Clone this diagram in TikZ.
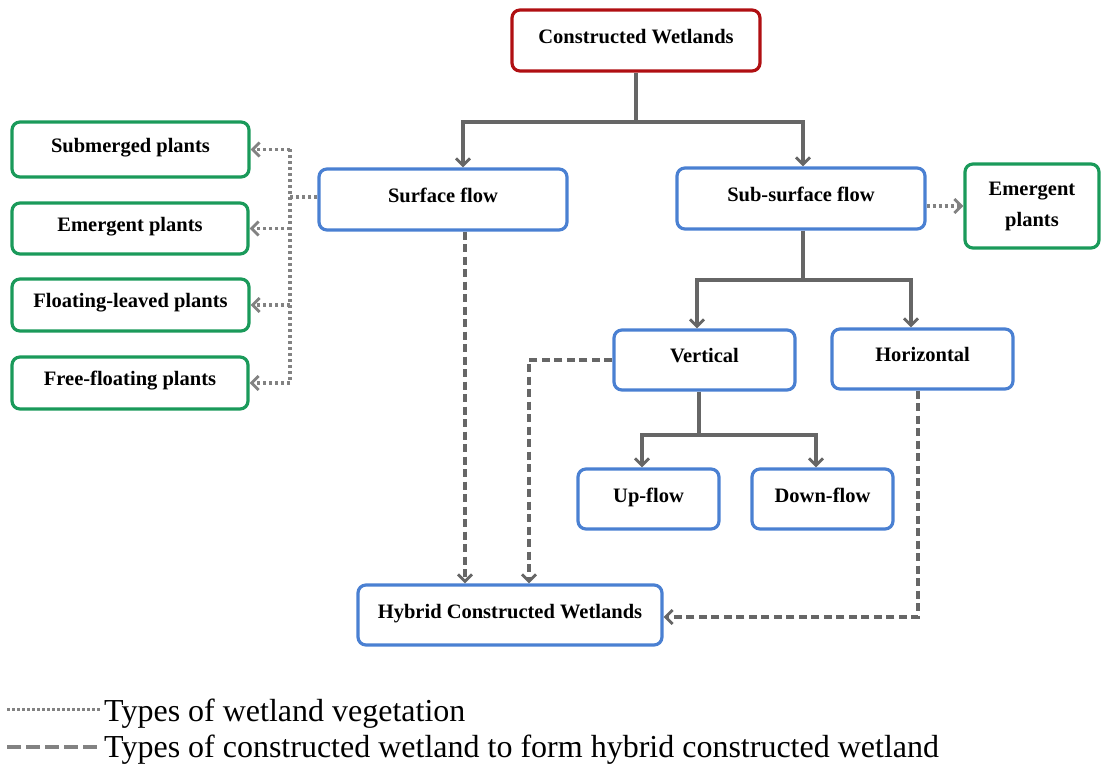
\documentclass[tikz,border=0pt]{standalone}
\usepackage{fontspec}
\setmainfont{Liberation Serif}
\usetikzlibrary{arrows.meta}
\definecolor{cwred}{HTML}{B00F12}
\definecolor{cwblue}{HTML}{4A80D2}
\definecolor{cwgreen}{HTML}{1A9A5A}
\definecolor{cwgray}{HTML}{666666}
\definecolor{cwdot}{HTML}{828282}
\begin{document}
\begin{tikzpicture}[x=1pt,y=-1pt,
  box/.style={draw, line width=3.2pt, rounded corners=8pt, fill=white, inner sep=0pt,
    align=center, font=\fontsize{20.5}{31}\selectfont\bfseries},
  oneline/.style={text height=13pt, text depth=7pt},
  redbox/.style={box, oneline, draw=cwred},
  bluebox/.style={box, oneline, draw=cwblue},
  greenbox/.style={box, oneline, draw=cwgreen},
  greenbox2/.style={box, draw=cwgreen},
  tip/.style={-{Straight Barb[length=7pt,width=14pt,line width=2.8pt]}},
  solidline/.style={draw=cwgray, line width=3.2pt},
  solidarr/.style={solidline, tip},
  dotline/.style={draw=cwdot, line width=3.2pt, dash pattern=on 3pt off 3pt},
  dotarr/.style={dotline, tip},
  dashline/.style={draw=cwgray, line width=3.2pt, dash pattern=on 8pt off 4.5pt},
  dasharr/.style={dashline, tip},
  legend/.style={anchor=base west, inner sep=0pt, font=\fontsize{32}{34}\selectfont}
]
\path[use as bounding box] (0,0) rectangle (1104,767);

% nodes
\node[redbox, minimum width=248pt, minimum height=61pt] (cw) at (636,40.5) {Constructed Wetlands};
\node[bluebox, minimum width=248pt, minimum height=61pt] (sf) at (443,199.5) {Surface flow};
\node[bluebox, minimum width=248pt, minimum height=61pt] (ssf) at (801,198.5) {Sub-surface flow};
\node[greenbox2, minimum width=134pt, minimum height=84pt] (emR) at (1032,206) {Emergent\\plants};
\node[greenbox, minimum width=237pt, minimum height=55pt] (sub) at (130.5,149.5) {Submerged plants};
\node[greenbox, minimum width=236pt, minimum height=51pt] (emL) at (130,228.5) {Emergent plants};
\node[greenbox, minimum width=237pt, minimum height=52pt] (flo) at (130.5,305) {Floating-leaved plants};
\node[greenbox, minimum width=236pt, minimum height=52pt] (fre) at (130,383) {Free-floating plants};
\node[bluebox, minimum width=181pt, minimum height=60pt] (vt) at (704.5,360) {Vertical};
\node[bluebox, minimum width=181pt, minimum height=60pt] (hz) at (922.5,359) {Horizontal};
\node[bluebox, minimum width=141pt, minimum height=60pt] (up) at (648.5,499) {Up-flow};
\node[bluebox, minimum width=141pt, minimum height=60pt] (dn) at (822.5,499) {Down-flow};
\node[bluebox, minimum width=304pt, minimum height=60pt] (hy) at (510,615) {Hybrid Constructed Wetlands};

% solid tree connectors
\coordinate (j1) at (636,122);
\draw[solidline] (cw.south) -- (j1);
\draw[solidarr] (j1) -| ([xshift=20pt]sf.north);
\draw[solidarr] (j1) -| ([xshift=2pt]ssf.north);

\coordinate (j2) at (803,280);
\draw[solidline] ([xshift=2pt]ssf.south) -- (j2);
\draw[solidarr] (j2) -| ([xshift=-7.5pt]vt.north);
\draw[solidarr] (j2) -| ([xshift=-11.5pt]hz.north);

\coordinate (j3) at (699,435);
\draw[solidline] ([xshift=-5.5pt]vt.south) -- (j3);
\draw[solidarr] (j3) -| ([xshift=-6.5pt]up.north);
\draw[solidarr] (j3) -| ([xshift=-6.5pt]dn.north);

% dotted vegetation connectors
\coordinate (jd) at (290,197);
\draw[dotline] ([yshift=2.5pt]sf.west) -- (jd);
\draw[dotline] (jd |- sub.east) -- (jd |- fre.east);
\draw[dotarr] (jd |- sub.east) -- (sub.east);
\draw[dotarr] (jd |- emL.east) -- (emL.east);
\draw[dotarr] (jd |- flo.east) -- (flo.east);
\draw[dotarr] (jd |- fre.east) -- (fre.east);
\draw[dotarr] (ssf.east |- emR.west) -- (emR.west);

% dashed hybrid connectors
\draw[dasharr] ([xshift=22pt]sf.south) -- ([xshift=22pt]sf.south |- hy.north);
\draw[dasharr] (vt.west) -| ([xshift=19pt]hy.north);
\draw[dasharr] ([xshift=-4.5pt]hz.south) |- ([yshift=-2pt]hy.east);

% legend
\coordinate (l1a) at (7,709);
\coordinate (l1b) at (101,709);
\coordinate (l2a) at (7,747);
\coordinate (l2b) at (101,747);
\draw[draw=cwdot, line width=3pt, dash pattern=on 2.5pt off 2.5pt] (l1a) -- (l1b);
\draw[draw=cwdot, line width=3.5pt, dash pattern=on 14pt off 5pt] (l2a) -- (l2b);
\node[legend] (t1) at (104,721) {Types of wetland vegetation};
\node[legend] (t2) at (104,757) {Types of constructed wetland to form hybrid constructed wetland};
\end{tikzpicture}
\end{document}
